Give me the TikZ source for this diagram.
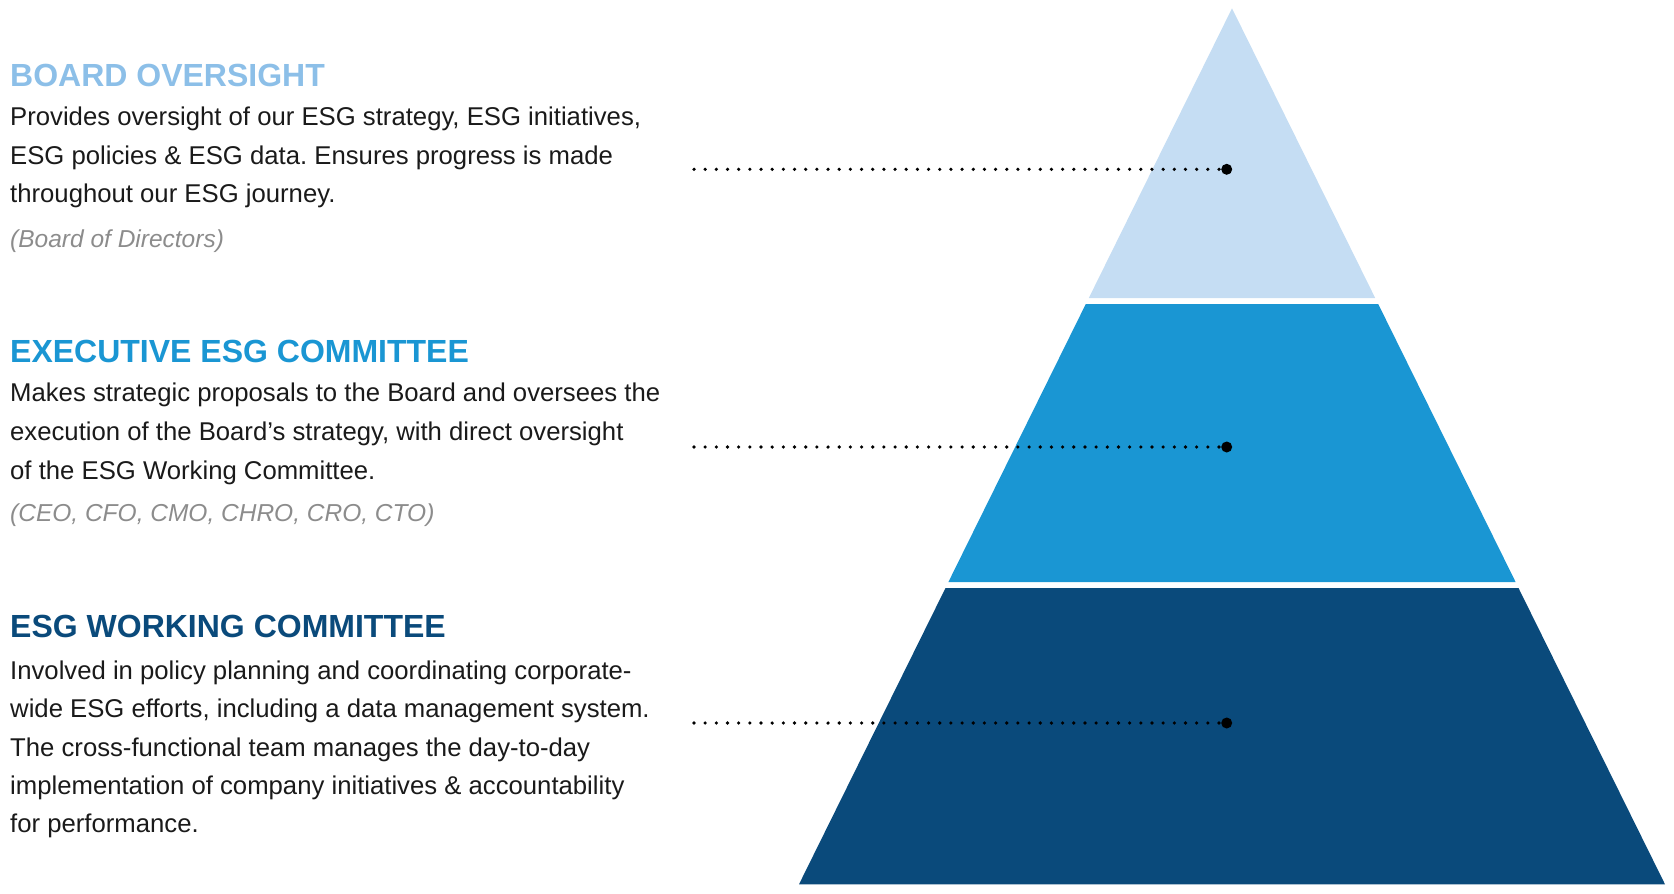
\documentclass[tikz,border=0pt]{standalone}
\usepackage{fontspec}
\setmainfont{Liberation Sans}
\frenchspacing
\definecolor{lightband}{HTML}{C5DDF3}
\definecolor{headone}{HTML}{8CBFE8}
\definecolor{midband}{HTML}{1A96D3}
\definecolor{darkband}{HTML}{0A4A7B}
\definecolor{graytext}{HTML}{8C8C8C}
\definecolor{bodytext}{HTML}{1A1A1A}
\begin{document}
\begin{tikzpicture}[x=1pt,y=-1pt,
  headtext/.style={anchor=base west, inner sep=0pt, font=\fontsize{32}{38}\selectfont\bfseries},
  bodyline/.style={anchor=base west, inner sep=0pt, text=bodytext, font=\fontsize{25.7}{30}\selectfont\frenchspacing},
  noteline/.style={anchor=base west, inner sep=0pt, text=graytext, font=\fontsize{24.5}{30}\selectfont\itshape},
  dotline/.style={line width=3.6pt, line cap=round, dash pattern=on 0pt off 11.17pt},
  bigdot/.style={circle, fill=black, inner sep=0pt, minimum size=11pt}]
\useasboundingbox (0,0) rectangle (1674,894);
% pyramid bands
\fill[lightband] (1232,8.3) -- (1375.2,298) -- (1088.8,298) -- cycle;
\fill[midband] (1085.8,304) -- (1378.2,304) -- (1515.6,582) -- (948.4,582) -- cycle;
\fill[darkband] (945.5,588) -- (1518.5,588) -- (1665,884.3) -- (799,884.3) -- cycle;
% block 1
\node[headtext, text=headone] (h1) at (10,86) {BOARD OVERSIGHT};
\node[bodyline] (b11) at (10,125.5) {Provides oversight of our ESG strategy, ESG initiatives,};
\node[bodyline] (b12) at (10,164) {ESG policies \& ESG data. Ensures progress is made};
\node[bodyline] (b13) at (10,202.5) {throughout our ESG journey.};
\node[noteline] (n1) at (10,247) {(Board of Directors)};
% block 2
\node[headtext, text=midband] (h2) at (10,362.7) {EXECUTIVE ESG COMMITTEE};
\node[bodyline] (b21) at (10,401) {Makes strategic proposals to the Board and oversees the};
\node[bodyline] (b22) at (10,440) {execution of the Board’s strategy, with direct oversight};
\node[bodyline] (b23) at (10,479) {of the ESG Working Committee.};
\node[noteline] (n2) at (10,521.5) {(CEO, CFO, CMO, CHRO, CRO, CTO)};
% block 3
\node[headtext, text=darkband] (h3) at (10,637.7) {ESG WORKING COMMITTEE};
\node[bodyline] (b31) at (10,679.3) {Involved in policy planning and coordinating corporate-};
\node[bodyline] (b32) at (10,717.7) {wide ESG efforts, including a data management system.};
\node[bodyline] (b33) at (10,756) {The cross-functional team manages the day-to-day};
\node[bodyline] (b34) at (10,794.3) {implementation of company initiatives \& accountability};
\node[bodyline] (b35) at (10,832.7) {for performance.};
% leaders
\coordinate (s1) at (694,169.3);
\coordinate (s2) at (694,447);
\coordinate (s3) at (694,723);
\node[bigdot] (d1) at (1226.7,169.3) {};
\node[bigdot] (d2) at (1226.7,447) {};
\node[bigdot] (d3) at (1226.7,723) {};
\draw[dotline] (s1) -- (d1.center);
\draw[dotline] (s2) -- (d2.center);
\draw[dotline] (s3) -- (d3.center);
\end{tikzpicture}
\end{document}
